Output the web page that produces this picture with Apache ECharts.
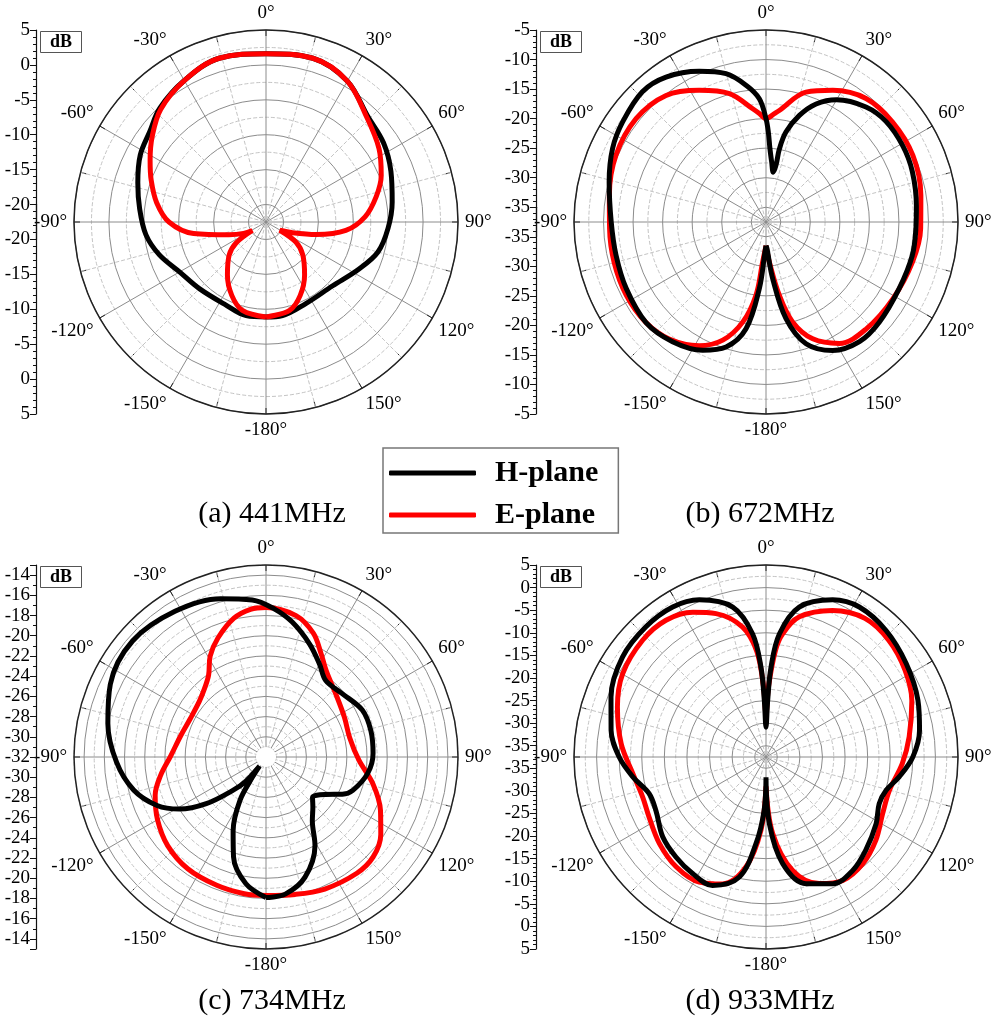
<!DOCTYPE html>
<html><head><meta charset="utf-8">
<script src="https://cdn.jsdelivr.net/npm/echarts@6/dist/echarts.min.js"></script>
<style>html,body{margin:0;padding:0;background:#fff}#c{width:996px;height:1024px}</style>
</head><body><div id="c"></div>
<script>
// ---------- data ----------
const captions = ['(a) 441MHz', '(b) 672MHz', '(c) 734MHz', '(d) 933MHz'];
const dbInner = [-22.5, -37.5, -32, -37.5];   // dB at the centre of each polar plot
const dbOuter = [5, -5, -13, 5];              // dB at the outer circle
const ringStep = [2.5, 2.5, 1, 2.5];          // dB between rings
const labelStep = [5, 5, 2, 5];               // dB between labelled ticks
const seriesNames = ['H-plane', 'E-plane'];

// [angle in degrees, gain in dB]
const h441 = [[-180,-8.9],[-168,-8.8],[-154,-9.3],[-135,-9.0],[-120,-8.2],[-107,-6.5],[-96,-5.2],[-84,-4.3],[-73,-3.3],[-62,-2.1],[-52,-1.4],[-43,-0.2],[-30,0.9],[-16,1.9],[0,1.6],[16,1.9],[30,0.8],[44,-1.5],[56,-2.2],[68,-3.2],[81,-4.2],[93,-5.0],[105,-5.9],[117,-7.6],[134,-9.3],[154,-9.5],[170,-8.9],[180,-8.9]];
const e441 = [[-180,-8.9],[-165,-9.4],[-155,-10.9],[-144,-13.1],[-132,-15.4],[-125,-17.3],[-122,-20.2],[-117,-18.9],[-109,-16.9],[-99,-12.0],[-90,-8.6],[-80,-6.6],[-70,-5.0],[-62,-3.7],[-53,-2.1],[-43,-0.4],[-30,0.9],[-16,1.9],[0,1.6],[16,1.9],[30,0.8],[44,-1.7],[57,-3.2],[68,-4.7],[77,-6.3],[87,-8.3],[96,-11.0],[104,-15.1],[112,-18.4],[121,-20.2],[124,-17.3],[132,-15.4],[144,-13.1],[155,-10.9],[165,-9.4],[180,-8.9]];

const h672 = [[-180,-33.5],[-178,-32.4],[-174.3,-26.2],[-169.4,-19.1],[-162.3,-15.3],[-153.7,-13.3],[-142,-11.8],[-130,-11.0],[-115.5,-11.3],[-102.5,-11.5],[-90,-11.3],[-75.7,-10.1],[-64.4,-8.7],[-55,-7.9],[-43.5,-7.1],[-34.6,-7.7],[-23.9,-9.6],[-15.1,-11.5],[-8.3,-14.1],[-3.1,-16.6],[0,-20.0],[1.5,-22.3],[3.1,-25.1],[5.4,-27.3],[8.3,-29.0],[10,-27.7],[10.4,-24.9],[12.5,-21.9],[17.4,-18.6],[23,-15.8],[30,-13.6],[41,-11.7],[50,-11.0],[61,-11.0],[71,-11.3],[84,-11.9],[92.5,-12.1],[103,-12.1],[116.6,-12.3],[131.4,-11.9],[142,-11.8],[152.6,-13.0],[161.8,-15.8],[168.3,-20.8],[173.3,-27.9],[177.9,-33.0],[180,-33.5]];
const e672 = [[-180,-33.5],[-175.2,-30.7],[-172.2,-25.0],[-166.9,-20.1],[-159.9,-16.2],[-151.6,-13.7],[-140.4,-11.8],[-129.8,-11.0],[-117.6,-10.8],[-104.8,-10.9],[-92.4,-11.0],[-80.3,-10.6],[-66,-9.7],[-51.5,-9.4],[-38.3,-10.2],[-26.9,-12.5],[-15.9,-14.9],[-6.7,-18.2],[-3.5,-19.1],[0,-20.0],[4.4,-19.1],[6.8,-18.5],[17.1,-14.5],[26.9,-12.5],[39,-10.6],[51.7,-10.2],[65.6,-10.2],[80.2,-10.9],[92.5,-11.3],[105.3,-11.8],[121.2,-12.4],[136.8,-12.7],[148.9,-13.5],[158.2,-16.2],[165.1,-20.0],[169.7,-24.9],[175.2,-30.7],[180,-33.5]];

const h734 = [[-180,-18.1],[-171,-19.3],[-162,-21.6],[-156,-24.0],[-149,-27.0],[-146,-29.6],[-144.5,-30.9],[-140,-28.8],[-135,-27.3],[-128,-24.5],[-121,-22.0],[-114,-20.2],[-104,-18.5],[-92,-17.2],[-78,-16.0],[-65,-15.0],[-49,-14.5],[-32,-15.0],[-16,-15.7],[-5,-16.4],[3,-17.3],[11,-18.4],[21,-20.0],[30,-21.4],[38,-22.4],[50,-22.2],[64,-21.4],[76,-21.3],[88,-21.4],[99,-21.8],[111,-22.8],[116,-23.6],[122,-25.0],[131,-25.9],[137,-25.2],[144,-24.2],[151,-22.0],[162,-19.5],[172,-18.3],[180,-18.1]];
const e734 = [[-180,-18.3],[-171,-18.3],[-159,-18.4],[-145,-18.5],[-132,-18.9],[-120,-19.6],[-109,-20.4],[-100,-21.4],[-89,-22.6],[-76,-23.3],[-63,-23.6],[-50,-23.4],[-42,-22.9],[-35,-22.1],[-29,-20.6],[-22,-19.3],[-13,-17.9],[-6,-17.3],[0,-17.2],[12,-17.7],[21,-18.9],[28,-20.4],[35,-21.6],[48,-22.7],[63,-23.3],[77,-23.5],[92,-22.8],[104,-21.1],[115,-19.5],[124,-18.3],[133,-17.5],[142,-17.4],[156,-17.7],[168,-18.1],[180,-18.3]];

const h933 = [[-180,-33],[-178,-25.7],[-173.4,-18.2],[-167.5,-10.3],[-157.4,-6.7],[-147.8,-7.0],[-138,-7.7],[-127.7,-8.6],[-116,-10.4],[-107.4,-10.4],[-98.5,-7.7],[-90,-5.0],[-80.2,-2.7],[-68.8,-0.7],[-55.1,1.2],[-42.7,1.7],[-31.9,1.6],[-23,0.3],[-12.5,-3.5],[-6.2,-10.1],[-3.2,-17.6],[-1.7,-25.0],[0,-30.9],[1.7,-25.0],[3.2,-17.6],[6.2,-10.1],[12.5,-3.5],[23,0.3],[31.9,1.6],[43.5,1.1],[56.3,-0.2],[69.5,-1.6],[80.1,-3.0],[90,-5.0],[98.5,-7.7],[105.5,-9.9],[112.4,-10.4],[121.2,-9.0],[133,-7.3],[142.6,-5.9],[152.2,-5.8],[162.5,-8.1],[171.1,-13.6],[177.1,-22.7],[180,-33]];
const e933 = [[-180,-31],[-176.1,-21.3],[-169.7,-12.8],[-161.1,-7.8],[-151.9,-6.1],[-140.7,-6.1],[-129.1,-7.1],[-117.2,-8.4],[-108,-8.8],[-97.1,-7.8],[-84.7,-5.3],[-71.4,-2.8],[-59.8,-0.8],[-46.6,0.1],[-36.2,0.0],[-26.8,-1.6],[-19.2,-3.9],[-10.2,-8.3],[-5,-14],[-2,-22],[0,-28],[2,-22],[5,-14],[7.7,-10.0],[13.4,-5.6],[24.4,-1.9],[35.5,0.2],[46.5,0.0],[57.9,-1.2],[68.9,-2.9],[82,-5.5],[92.8,-7.3],[105,-9.2],[115.9,-8.8],[127.1,-7.0],[137.8,-5.6],[148.1,-5.3],[157.2,-7.1],[166.8,-11.7],[175,-20.5],[180,-31]];

const hPlane = [h441, h672, h734, h933];
const ePlane = [e441, e672, e734, e933];

// ---------- layout / style ----------
const centers = [[266, 222], [766, 222], [266, 757], [766, 757]];
const R = 192;
const axisX = [36, 536, 36, 536];
const captionPos = [[272, 514], [760, 514], [272, 1001], [760, 1001]];
const dbBoxPos = [[40, 31], [540, 31], [40, 566], [540, 566]];
const F = '"Liberation Serif", "Times New Roman", serif';
const SOLID = '#8c8c8c', DASH = '#c4c4c4', CLEAR = 'rgba(0,0,0,0)';
const blackFirst = [true, false, false, false];

const angFmt = v => {
  if (v === 0 || v === 360) return '0°';
  if (v === 180) return '-180°';
  return (v < 180 ? v : v - 360) + '°';
};
const toPolar = arr => arr.map(([a, v]) => [v, (a + 360) % 360]);

const polar = [], angleAxis = [], radiusAxis = [], grid = [], xAxis = [], yAxis = [], series = [], title = [], graphic = [];

for (let i = 0; i < 4; i++) {
  const [cx, cy] = centers[i];
  const inner = dbInner[i], outer = dbOuter[i], step = ringStep[i], ls = labelStep[i];
  const isMajor = v => Math.abs(v / ls - Math.round(v / ls)) < 1e-6;
  const solidCols = [0, 1].map(k => isMajor(inner + k * step) ? SOLID : CLEAR);
  const dashCols = [0, 1].map(k => isMajor(inner + k * step) ? CLEAR : DASH);

  polar.push({ center: [cx, cy], radius: [0, R] }, { center: [cx, cy], radius: [0, R] });

  angleAxis.push({
    polarIndex: 2 * i, type: 'value', min: 0, max: 360, interval: 30, startAngle: 90, clockwise: true,
    axisLine: { show: true, lineStyle: { color: '#222', width: 1.5 } },
    axisTick: { show: false },
    axisLabel: { show: true, margin: 7, color: '#000', fontFamily: F, fontSize: 19, formatter: angFmt },
    splitLine: { show: true, lineStyle: { color: SOLID, width: 1 } }
  });
  angleAxis.push({
    polarIndex: 2 * i + 1, type: 'value', min: 0, max: 360, interval: 15, startAngle: 90, clockwise: true,
    axisLine: { show: false },
    axisTick: { show: true, inside: true, length: 6, lineStyle: { color: '#222', width: 1 } },
    axisLabel: { show: false },
    splitLine: { show: true, lineStyle: { color: [CLEAR, DASH], type: 'dashed', width: 1 } }
  });
  radiusAxis.push({
    polarIndex: 2 * i, type: 'value', min: inner, max: outer, interval: step,
    axisLine: { show: false }, axisTick: { show: false }, axisLabel: { show: false },
    splitLine: { show: true, lineStyle: { color: solidCols, width: 1 } }
  });
  radiusAxis.push({
    polarIndex: 2 * i + 1, type: 'value', min: inner, max: outer, interval: step,
    axisLine: { show: false }, axisTick: { show: false }, axisLabel: { show: false },
    splitLine: { show: true, lineStyle: { color: dashCols, width: 1, type: 'dashed' } }
  });

  // vertical dB scale (mirrored about the centre)
  const pxPerDb = R / (outer - inner);
  const axMin = Math.floor(inner / ls + 1e-9) * ls;
  const h = (outer - axMin) * pxPerDb;
  grid.push({ left: axisX[i], top: cy - R, width: 10, height: h });
  grid.push({ left: axisX[i], top: cy - (inner - axMin) * pxPerDb, width: 10, height: h });
  for (let half = 0; half < 2; half++) {
    const g = 2 * i + half;
    xAxis.push({ gridIndex: g, type: 'value', show: false });
    yAxis.push({
      gridIndex: g, type: 'value', min: axMin, max: outer, interval: ls, inverse: half === 1, position: 'left',
      axisLine: { show: true, onZero: false, lineStyle: { color: '#111', width: 1.2 } },
      axisTick: { show: true, inside: false, length: 6, lineStyle: { color: '#111' } },
      minorTick: { show: true, splitNumber: ls, length: 3, lineStyle: { color: '#111' } },
      splitLine: { show: false },
      axisLabel: {
        color: '#000', fontFamily: F, fontSize: 19, margin: 6,
        formatter: v => {
          if (!isMajor(v)) return '';
          if (half === 0 ? v < inner - 1e-9 : v <= inner + 1e-9) return '';
          return String(v);
        }
      }
    });
  }

  const mk = (name, arr, color) => ({
    type: 'line', name, coordinateSystem: 'polar', polarIndex: 2 * i, data: toPolar(arr),
    symbol: 'none', smooth: 0.35, z: 3, silent: true,
    lineStyle: { color, width: 5 }, itemStyle: { color }
  });
  const hs = mk(seriesNames[0], hPlane[i], '#000');
  const es = mk(seriesNames[1], ePlane[i], '#ff0000');
  if (blackFirst[i]) series.push(hs, es); else series.push(es, hs);

  title.push({
    text: 'dB', left: dbBoxPos[i][0], top: dbBoxPos[i][1], borderWidth: 1, borderColor: '#555',
    padding: [2, 10, 2, 10],
    textStyle: { fontFamily: F, fontWeight: 'bold', fontSize: 18, color: '#000' }
  });
  graphic.push({
    type: 'text', x: captionPos[i][0], y: captionPos[i][1], z: 10,
    style: { text: captions[i], font: '30px ' + F, fill: '#000', align: 'center', verticalAlign: 'middle', textAlign: 'center', textVerticalAlign: 'middle' }
  });
}
// white hub of plot (c), radius of its innermost ring
graphic.push({
  type: 'circle', z: 1,
  shape: { cx: centers[2][0], cy: centers[2][1], r: R * ringStep[2] / (dbOuter[2] - dbInner[2]) },
  style: { fill: '#fff' }
});

const chart = echarts.init(document.getElementById('c'), null, { renderer: 'canvas' });
chart.setOption({
  animation: false,
  backgroundColor: '#fff',
  title, polar, angleAxis, radiusAxis, grid, xAxis, yAxis, series, graphic,
  legend: {
    data: seriesNames, orient: 'vertical', left: 383, top: 448, selectedMode: false,
    padding: [10, 20, 3, 6], itemGap: 12, itemWidth: 87, itemHeight: 5, icon: 'roundRect',
    borderColor: '#777', borderWidth: 1.5,
    textStyle: { fontFamily: F, fontWeight: 'bold', fontSize: 30, color: '#000', padding: [0, 0, 0, 14] }
  }
});
</script></body></html>
